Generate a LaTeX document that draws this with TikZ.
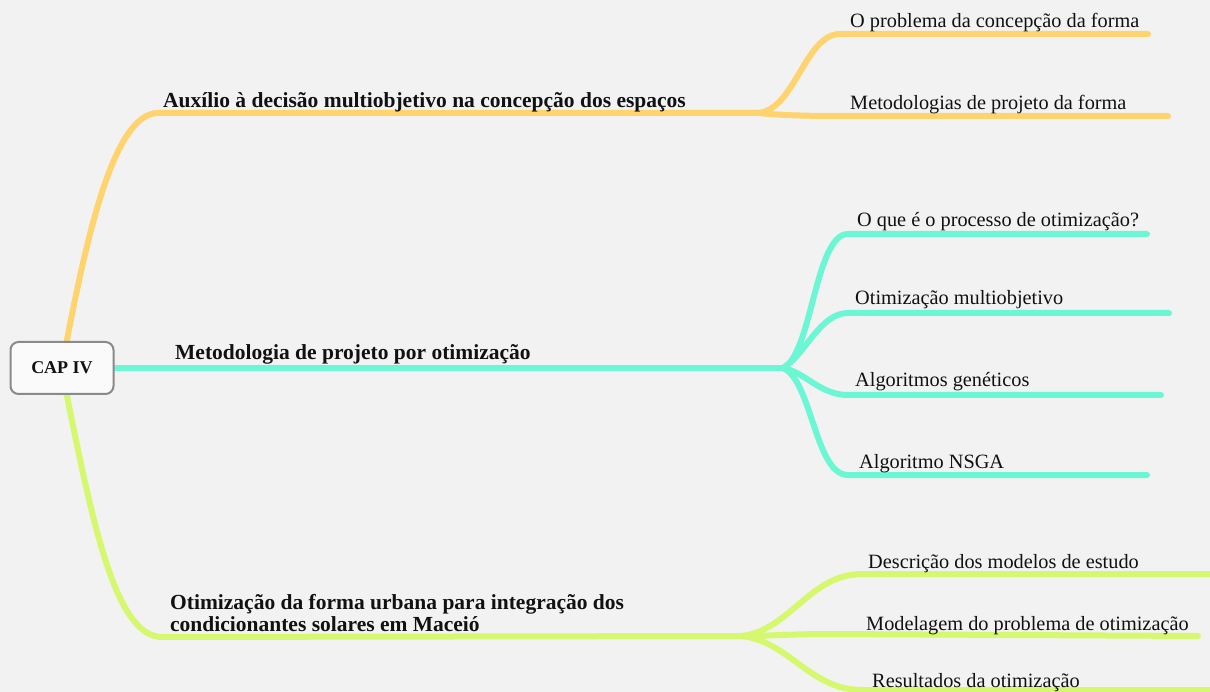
\documentclass[tikz,border=0pt]{standalone}
\usepackage{fontspec}
\setmainfont{Liberation Serif}
\definecolor{bgc}{HTML}{F2F2F2}
\definecolor{orangeb}{HTML}{FFD36E}
\definecolor{tealb}{HTML}{6CF7D4}
\definecolor{greenb}{HTML}{D5F86E}
\definecolor{boxline}{HTML}{8A8A8A}
\definecolor{txt}{HTML}{111111}
\begin{document}
\begin{tikzpicture}[x=1pt,y=-1pt,
  branch/.style={line width=6pt,line cap=round,line join=round},
  lab/.style={anchor=base west,inner sep=0pt,text=txt,font=\fontsize{20.3}{24}\selectfont},
  mainlab/.style={anchor=base west,inner sep=0pt,text=txt,font=\bfseries\fontsize{21.5}{22}\selectfont,align=left},
  rootbox/.style={draw=boxline,line width=2pt,rounded corners=8pt,fill=white!60!bgc,minimum width=103pt,minimum height=52pt,inner sep=0pt,text=txt,font=\bfseries\fontsize{18}{22}\selectfont}]
\fill[bgc] (0,0) rectangle (1210,692);
\useasboundingbox (0,0) rectangle (1210,692);

% junctions and ends
\coordinate (oj) at (758,113);
\coordinate (o1s) at (840,34);   \coordinate (o1e) at (1148,34);
\coordinate (o2e) at (1168,116);
\coordinate (tj) at (783,368);
\coordinate (t1s) at (848,234);  \coordinate (t1e) at (1147,234);
\coordinate (t2s) at (848,313);  \coordinate (t2e) at (1169,313);
\coordinate (t3s) at (848,395);  \coordinate (t3e) at (1161,395);
\coordinate (t4s) at (848,475);  \coordinate (t4e) at (1147,475);
\coordinate (gj) at (742,636);
\coordinate (g1s) at (862,574);  \coordinate (g1e) at (1212,574);
\coordinate (g2e) at (1198,636);
\coordinate (g3s) at (862,690);  \coordinate (g3e) at (1212,690);
\coordinate (oh) at (158,113);
\coordinate (gh) at (162,637);

% orange branch
\draw[branch,orangeb] (66,345) .. controls (88,230) and (115,113) .. (oh) -- (oj);
\draw[branch,orangeb] (oj) .. controls (795,110) and (805,34) .. (o1s) -- (o1e);
\draw[branch,orangeb] (oj) .. controls (780,115) and (800,116) .. (840,116) -- (o2e);

% teal branch
\draw[branch,tealb] (113,368) -- (tj);
\draw[branch,tealb] (tj) .. controls (812,355) and (815,234) .. (t1s) -- (t1e);
\draw[branch,tealb] (tj) .. controls (805,355) and (820,313) .. (t2s) -- (t2e);
\draw[branch,tealb] (tj) .. controls (805,372) and (820,395) .. (t3s) -- (t3e);
\draw[branch,tealb] (tj) .. controls (812,380) and (815,475) .. (t4s) -- (t4e);

% green branch
\draw[branch,greenb] (66,391) .. controls (92,520) and (115,637) .. (gh) -- (gj);
\draw[branch,greenb] (gj) .. controls (790,630) and (810,574) .. (g1s) -- (g1e);
\draw[branch,greenb] (gj) .. controls (770,636) and (790,634) .. (830,634) -- (g2e);
\draw[branch,greenb] (gj) .. controls (790,642) and (810,690) .. (g3s) -- (g3e);

% root
\node[rootbox] (root) at (62,368) {CAP IV};

% main labels
\node[mainlab] (l1) at (163,108) {Auxílio à decisão multiobjetivo na concepção dos espaços};
\node[mainlab] (l2) at (175,360) {Metodologia de projeto por otimização};
\node[mainlab] (l3a) at (170,609) {Otimização da forma urbana para integração dos};
\node[mainlab] (l3b) at (170,631) {condicionantes solares em Maceió};

% sub labels
\node[lab] (s1) at (850,28) {O problema da concepção da forma};
\node[lab] (s2) at (850,110) {Metodologias de projeto da forma};
\node[lab] (s3) at (857,227) {O que é o processo de otimização?};
\node[lab] (s4) at (855,305) {Otimização multiobjetivo};
\node[lab] (s5) at (855,387) {Algoritmos genéticos};
\node[lab] (s6) at (859,468) {Algoritmo NSGA};
\node[lab] (s7) at (868,568) {Descrição dos modelos de estudo};
\node[lab] (s8) at (866,630) {Modelagem do problema de otimização};
\node[lab] (s9) at (872,687) {Resultados da otimização};
\end{tikzpicture}
\end{document}
